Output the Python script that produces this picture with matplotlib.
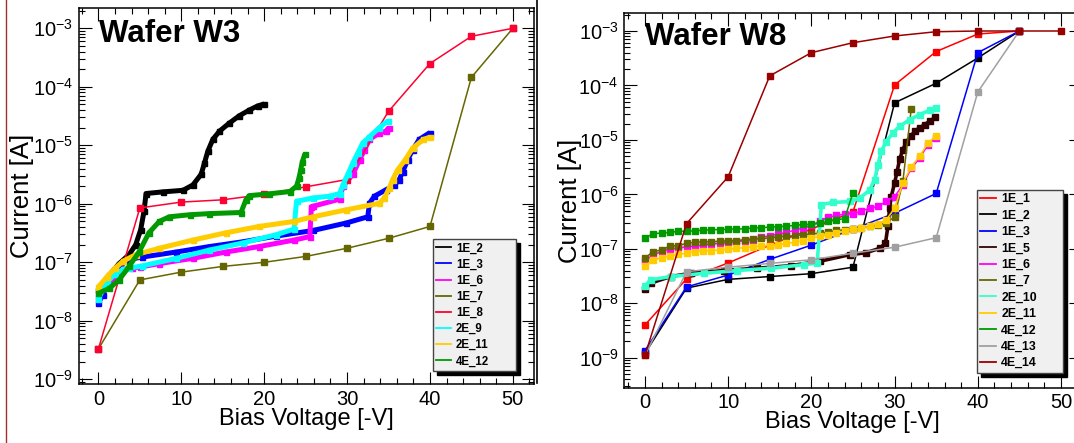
import numpy as np
import matplotlib
matplotlib.use('Agg')
import matplotlib.pyplot as plt
from matplotlib.ticker import MultipleLocator, FixedLocator, NullFormatter, LogFormatterMathtext
from matplotlib.lines import Line2D

plt.rcParams['font.family'] = ['Liberation Sans', 'DejaVu Sans']
plt.rcParams['mathtext.fontset'] = 'custom'
plt.rcParams['mathtext.rm'] = 'Liberation Sans'
plt.rcParams['mathtext.it'] = 'Liberation Sans:italic'
plt.rcParams['mathtext.bf'] = 'Liberation Sans:bold'

# ---------------- Wafer W3 ----------------
w3_v_1E_2 = [0, 1.3, 2.5, 3.7, 4.5, 5.1, 5.5, 5.75, 7.8, 10.2, 11.4, 12.4, 12.8, 13.2,
             13.8, 14.6, 15.8, 17.0, 18.2, 19.2, 20.0]
w3_i_1E_2 = [3.4e-8, 6.0e-8, 9.5e-8, 1.35e-7, 2.0e-7, 3.6e-7, 7.4e-7, 1.5e-6, 1.6e-6, 1.7e-6,
             2.1e-6, 3.2e-6, 5.0e-6, 7.9e-6, 1.26e-5, 1.74e-5, 2.4e-5, 3.2e-5, 4.0e-5, 4.7e-5, 5.1e-5]

w3_v_1E_3 = [0, 0.5, 1.3, 2.1, 3.3, 5.3, 9.4, 13.4, 17.4, 21.4, 25.9, 29.9, 32.5, 32.7, 33.3,
             34.7, 35.7, 36.3, 36.7, 37.3, 37.9, 38.7, 40]
w3_i_1E_3 = [2.0e-8, 2.75e-8, 5.0e-8, 6.5e-8, 1.1e-7, 1.23e-7, 1.5e-7, 1.86e-7, 2.24e-7, 2.8e-7,
             3.5e-7, 4.7e-7, 6.0e-7, 1.02e-6, 1.35e-6, 1.74e-6, 2.1e-6, 2.6e-6, 3.5e-6, 5.6e-6,
             8.3e-6, 1.26e-5, 1.65e-5]

w3_v_1E_6 = [0, 1, 2, 3, 4, 5, 7.35, 11.4, 15.4, 19.4, 23.6, 25.5, 25.7, 25.9, 29.1, 29.5,
             30.7, 31.5, 32.1, 32.7, 33.9, 34.7, 35]
w3_i_1E_6 = [2.6e-8, 4.0e-8, 5.6e-8, 7.6e-8, 7.9e-8, 8.3e-8, 9.5e-8, 1.17e-7, 1.5e-7, 1.86e-7,
             2.4e-7, 2.75e-7, 8.9e-7, 9.1e-7, 1.2e-6, 2.0e-6, 3.2e-6, 5.6e-6, 8.3e-6, 1.26e-5,
             1.62e-5, 1.74e-5, 2.0e-5]

w3_v_step5 = [0, 5, 10, 15, 20, 25, 30, 35, 40, 45, 50]
w3_i_1E_7 = [3.3e-9, 5.0e-8, 6.8e-8, 8.5e-8, 1.0e-7, 1.26e-7, 1.74e-7, 2.57e-7, 4.1e-7, 1.45e-4, 1.0e-3]
w3_i_1E_8 = [3.3e-9, 8.5e-7, 1.07e-6, 1.17e-6, 1.45e-6, 1.95e-6, 2.6e-6, 3.8e-5, 2.5e-4, 7.3e-4, 1.0e-3]

w3_v_2E_9 = [0, 1, 2, 3, 3.7, 5.3, 9.4, 13.4, 17.4, 21.4, 23.6, 23.9, 25.9, 27.9, 29.1, 29.5,
             30.1, 30.7, 31.3, 31.9, 32.7, 33.9, 34.9]
w3_i_2E_9 = [2.4e-8, 4.5e-8, 6.3e-8, 7.6e-8, 7.9e-8, 8.7e-8, 1.17e-7, 1.62e-7, 2.14e-7, 2.95e-7,
             3.7e-7, 1.1e-6, 1.26e-6, 1.35e-6, 1.5e-6, 2.1e-6, 3.2e-6, 5.0e-6, 7.4e-6, 1.1e-5,
             1.4e-5, 2.0e-5, 2.6e-5]

w3_v_2E_11 = [0, 1, 2, 3, 4.5, 7.35, 11.4, 15.4, 19.4, 23.6, 25.9, 29.9, 33.9, 34.5, 35.1,
              35.5, 36.1, 37, 37.9, 39.2, 40]
w3_i_2E_11 = [3.8e-8, 5.6e-8, 7.9e-8, 1.05e-7, 1.35e-7, 1.74e-7, 2.4e-7, 3.2e-7, 4.1e-7, 5.0e-7,
              6.0e-7, 7.9e-7, 1.02e-6, 1.26e-6, 1.86e-6, 2.6e-6, 3.8e-6, 5.6e-6, 8.9e-6, 1.26e-5, 1.38e-5]

w3_v_4E_12 = [0, 1.33, 2.5, 3.7, 4.9, 6.1, 7.35, 8.55, 11, 13.4, 17.2, 17.8, 18.2, 20.6, 23.1,
              23.9, 24.2, 24.4, 24.6, 24.9]
w3_i_4E_12 = [2.95e-8, 3.6e-8, 5.0e-8, 8.5e-8, 1.5e-7, 3.2e-7, 5.0e-7, 6.0e-7, 6.5e-7, 6.8e-7,
              7.1e-7, 1.17e-6, 1.38e-6, 1.48e-6, 1.62e-6, 2.0e-6, 2.75e-6, 3.8e-6, 5.2e-6, 7.1e-6]

# ---------------- Wafer W8 ----------------
w8_v_step5 = [0, 5, 10, 15, 20, 25, 30, 35, 40, 45]
w8_i_1E_1 = [4.0e-9, 2.8e-8, 5.5e-8, 1.17e-7, 2.3e-7, 4.8e-7, 1.02e-4, 4.2e-4, 8.8e-4, 1.0e-3]
w8_i_1E_2 = [1.2e-9, 1.9e-8, 2.75e-8, 3.1e-8, 3.5e-8, 4.6e-8, 4.8e-5, 1.1e-4, 3.2e-4, 1.0e-3]
w8_i_1E_3 = [1.35e-9, 2.0e-8, 3.3e-8, 6.4e-8, 1.17e-7, 2.3e-7, 4.5e-7, 1.04e-6, 4.0e-4, 1.0e-3]
w8_i_4E_13 = [1.1e-9, 3.8e-8, 4.6e-8, 5.4e-8, 6.3e-8, 8.3e-8, 1.07e-7, 1.6e-7, 7.6e-5, 1.0e-3]
w8_v_4E_14 = [0, 5, 10, 15, 20, 25, 30, 35, 40, 45, 50]
w8_i_4E_14 = [1.1e-9, 2.9e-7, 2.1e-6, 1.5e-4, 4.0e-4, 6.1e-4, 8.1e-4, 9.7e-4, 1.0e-3, 1.0e-3, 1.0e-3]

w8_v_1E_5 = [0, 0.7, 3.1, 5.5, 9.5, 13.5, 17.5, 21, 24.6, 26.6, 28.2, 28.9, 29.2, 29.4, 29.6,
             30.0, 30.3, 30.6, 31.0, 31.4, 32.0, 32.4, 33.0, 33.6, 34.2, 34.9]
w8_i_1E_5 = [1.8e-8, 2.35e-8, 3.1e-8, 3.55e-8, 4.0e-8, 4.4e-8, 4.9e-8, 5.9e-8, 7.8e-8, 8.5e-8,
             1.02e-7, 1.26e-7, 2.6e-7, 5.6e-7, 9.1e-7, 1.62e-6, 2.6e-6, 4.4e-6, 6.6e-6, 9.3e-6,
             1.17e-5, 1.45e-5, 1.66e-5, 1.9e-5, 2.2e-5, 2.6e-5]

w8_v_2E_10 = [0, 0.7, 3.1, 7.1, 11.1, 15.1, 19.1, 20.7, 21.2, 22.6, 24.6, 25.8, 27.0, 27.6, 28.0,
              28.4, 29.0, 29.8, 30.6, 31.8, 33.0, 34.2, 35.0]
w8_i_2E_10 = [2.05e-8, 2.7e-8, 3.1e-8, 3.55e-8, 4.0e-8, 4.4e-8, 5.1e-8, 5.5e-8, 6.5e-7, 7.1e-7,
              7.4e-7, 8.5e-7, 1.2e-6, 1.86e-6, 3.5e-6, 6.2e-6, 9.3e-6, 1.35e-5, 1.78e-5, 2.35e-5,
              2.9e-5, 3.5e-5, 3.9e-5]

w8_v_1E_6 = list(range(0, 36))
w8_i_1E_6 = [6.0e-8, 7.8e-8, 8.9e-8, 1.0e-7, 1.02e-7, 1.1e-7, 1.1e-7, 1.17e-7, 1.23e-7, 1.26e-7,
             1.32e-7, 1.35e-7, 1.41e-7, 1.48e-7, 1.62e-7, 1.74e-7, 1.86e-7, 2.0e-7, 2.2e-7, 2.4e-7,
             2.7e-7, 3.2e-7, 3.8e-7, 4.1e-7, 4.3e-7, 4.4e-7, 4.9e-7, 5.6e-7, 6.0e-7, 7.4e-7,
             9.1e-7, 1.5e-6, 3.0e-6, 4.6e-6, 8.1e-6, 1.1e-5]

w8_v_1E_7 = list(range(0, 33))
w8_i_1E_7 = [6.8e-8, 8.9e-8, 9.5e-8, 1.12e-7, 1.15e-7, 1.26e-7, 1.32e-7, 1.35e-7, 1.35e-7, 1.38e-7,
             1.41e-7, 1.41e-7, 1.48e-7, 1.51e-7, 1.55e-7, 1.58e-7, 1.66e-7, 1.7e-7, 1.74e-7, 1.82e-7,
             1.86e-7, 1.95e-7, 2.0e-7, 2.2e-7, 2.2e-7, 2.3e-7, 2.4e-7, 2.6e-7, 2.75e-7, 3.0e-7,
             3.9e-7, 1.74e-6, 3.7e-5]

w8_v_2E_11 = list(range(0, 36))
w8_i_2E_11 = [4.9e-8, 6.3e-8, 6.8e-8, 7.4e-8, 7.9e-8, 8.3e-8, 8.9e-8, 9.1e-8, 9.3e-8, 9.5e-8,
              9.8e-8, 1.02e-7, 1.05e-7, 1.1e-7, 1.12e-7, 1.15e-7, 1.2e-7, 1.26e-7, 1.32e-7, 1.41e-7,
              1.55e-7, 1.7e-7, 1.82e-7, 1.95e-7, 2.1e-7, 2.3e-7, 2.4e-7, 2.6e-7, 2.9e-7, 3.4e-7,
              5.6e-7, 1.62e-6, 3.2e-6, 5.0e-6, 8.7e-6, 1.2e-5]

w8_v_4E_12 = list(range(0, 26))
w8_i_4E_12 = [1.58e-7, 1.9e-7, 1.95e-7, 2.0e-7, 2.1e-7, 2.1e-7, 2.15e-7, 2.2e-7, 2.25e-7, 2.25e-7,
              2.3e-7, 2.3e-7, 2.35e-7, 2.4e-7, 2.45e-7, 2.5e-7, 2.55e-7, 2.6e-7, 2.7e-7, 2.8e-7,
              2.8e-7, 2.95e-7, 3.2e-7, 3.4e-7, 3.6e-7, 1.07e-6]

y_decades = [-9, -8, -7, -6, -5, -4, -3]

W, H = 1074, 443
fig = plt.figure(figsize=(W / 100, H / 100), dpi=100)


def axes_px(l, t, r, b):
    return fig.add_axes([l / W, 1 - b / H, (r - l) / W, (b - t) / H])


def style(ax, xlim, ylim):
    ax.set_yscale('log')
    ax.set_xlim(*xlim)
    ax.set_ylim(*ylim)
    ax.xaxis.set_major_locator(MultipleLocator(10))
    ax.xaxis.set_minor_locator(MultipleLocator(2))
    lo, hi = ylim
    majors = [10.0 ** d for d in y_decades]
    minors = [m * 10.0 ** d for d in range(-10, -2) for m in range(2, 10)
              if lo <= m * 10.0 ** d <= hi]
    ax.yaxis.set_major_locator(FixedLocator(majors))
    ax.yaxis.set_major_formatter(LogFormatterMathtext())
    ax.yaxis.set_minor_locator(FixedLocator(minors))
    ax.yaxis.set_minor_formatter(NullFormatter())
    ax.tick_params(which='both', direction='in', top=True, right=True, labelsize=14.5, pad=4)
    ax.tick_params(which='major', length=9, width=0.8)
    ax.tick_params(which='minor', length=4.5, width=0.8)
    for s in ax.spines.values():
        s.set_linewidth(1.1)
    ax.set_xlabel('Bias Voltage [-V]', fontsize=17)
    ax.set_ylabel('Current [A]', fontsize=18.5)


def legend(ax, handles, x, y, w, size):
    ax.legend(handles=handles, loc='upper left', mode='expand',
              bbox_to_anchor=(x / W, 1 - y / H, w / W, 0.01), bbox_transform=fig.transFigure,
              borderaxespad=0, fancybox=False, framealpha=1, facecolor='#f0f0f0',
              edgecolor='#444444', shadow={'ox': 3, 'oy': -3, 'color': 'black', 'alpha': 1},
              prop={'weight': 'bold', 'size': size}, handlelength=1.3, handletextpad=0.4,
              labelspacing=0.36, borderpad=0.3)


# ---- left panel ----
ax1 = axes_px(78.5, 8, 534.4, 384)
style(ax1, (-2.4, 52.6), (10 ** -9.08, 10 ** -2.653))

w3_series = [
    ('1E_2', w3_v_1E_2, w3_i_1E_2, 'black', True),
    ('1E_3', w3_v_1E_3, w3_i_1E_3, '#0000ff', True),
    ('1E_6', w3_v_1E_6, w3_i_1E_6, '#ff00ff', True),
    ('1E_7', w3_v_step5, w3_i_1E_7, '#666600', False),
    ('1E_8', w3_v_step5, w3_i_1E_8, '#ff0033', False),
    ('2E_9', w3_v_2E_9, w3_i_2E_9, '#00ffff', True),
    ('2E_11', w3_v_2E_11, w3_i_2E_11, '#ffcc00', True),
    ('4E_12', w3_v_4E_12, w3_i_4E_12, '#009900', True),
]
h1 = []
for name, v, i, c, dense in w3_series:
    if dense:
        ax1.plot(v, i, color=c, lw=3.6, marker='s', ms=3.6, solid_capstyle='butt')
    else:
        ax1.plot(v, i, color=c, lw=1.1, marker='s', ms=3.8)
    h1.append(Line2D([], [], color=c, lw=1.3, label=name))
legend(ax1, h1, 432.7, 243.3, 83, 8.3)
ax1.yaxis.set_label_coords(-0.0976, 0.5)
ax1.xaxis.set_label_coords(0.5, -0.065)

# ---- right panel ----
ax2 = axes_px(624.2, 13.3, 1081, 387.7)
style(ax2, (-2.49, 52.4), (10 ** -9.55, 10 ** -2.675))

w8_series = [
    ('1E_1', w8_v_step5, w8_i_1E_1, '#ff0000', 1.1),
    ('1E_2', w8_v_step5, w8_i_1E_2, 'black', 1.1),
    ('1E_3', w8_v_step5, w8_i_1E_3, '#0000ff', 1.1),
    ('1E_5', w8_v_1E_5, w8_i_1E_5, '#330000', 2.6),
    ('1E_6', w8_v_1E_6, w8_i_1E_6, '#ff00ff', 1.1),
    ('1E_7', w8_v_1E_7, w8_i_1E_7, '#666600', 1.1),
    ('2E_10', w8_v_2E_10, w8_i_2E_10, '#33ffcc', 2.6),
    ('2E_11', w8_v_2E_11, w8_i_2E_11, '#ffcc00', 1.1),
    ('4E_12', w8_v_4E_12, w8_i_4E_12, '#009900', 1.1),
    ('4E_13', w8_v_step5, w8_i_4E_13, '#a0a0a0', 1.1),
    ('4E_14', w8_v_4E_14, w8_i_4E_14, '#990000', 1.1),
]
h2 = []
for name, v, i, c, lw in w8_series:
    ax2.plot(v, i, color=c, lw=lw, marker='s', ms=3.8)
    h2.append(Line2D([], [], color=c, lw=1.3, label=name))
legend(ax2, h2, 976.7, 194, 86, 8.8)
ax2.yaxis.set_label_coords(-0.0913, 0.5)
ax2.xaxis.set_label_coords(0.5, -0.061)

# titles
fig.text(98.8 / W, 1 - 41.7 / H, 'Wafer W3', fontsize=22.5, fontweight='bold', va='baseline')
fig.text(644.9 / W, 1 - 45 / H, 'Wafer W8', fontsize=22.5, fontweight='bold', va='baseline')

# borders of the two cut-out panels
fig.add_artist(Line2D([5.5 / W, 5.5 / W], [0, 1], color='#a03030', lw=1.0, transform=fig.transFigure))
fig.add_artist(Line2D([537 / W, 537 / W], [1 - 383 / H, 1], color='black', lw=1.2,
                      transform=fig.transFigure))

fig.savefig('out.png', dpi=100)
